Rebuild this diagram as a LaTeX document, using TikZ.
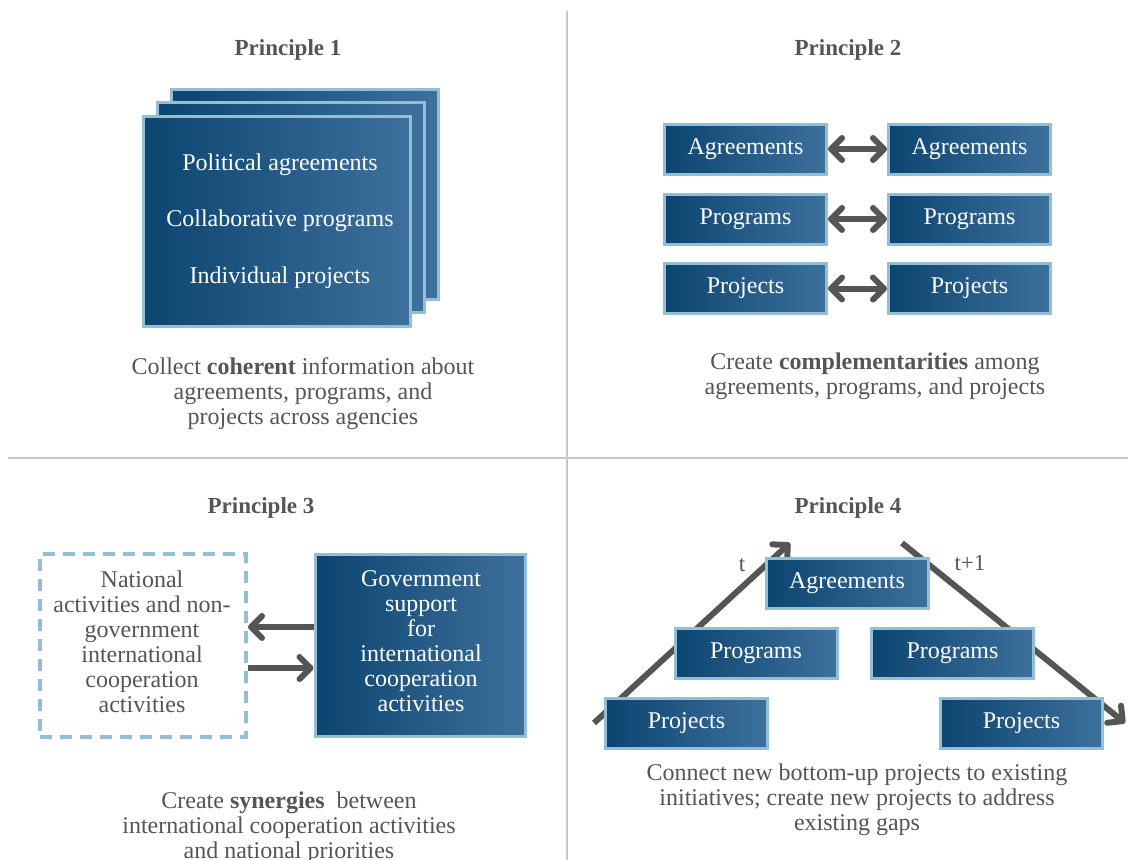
\documentclass[tikz,border=0pt]{standalone}
\usepackage{fontspec}
\setmainfont{Liberation Serif}
\usetikzlibrary{arrows.meta,calc}
\definecolor{boxdark}{HTML}{0B4570}
\definecolor{boxlight}{HTML}{3E709C}
\definecolor{boxedge}{HTML}{93BFD6}
\definecolor{textgray}{HTML}{555555}
\definecolor{arrgray}{HTML}{555555}
\definecolor{divgray}{HTML}{C8C8C8}
\begin{document}
\begin{tikzpicture}[x=1pt,y=-1pt,
  bluebox/.style={draw=boxedge, line width=3pt, left color=boxdark, right color=boxlight,
    text=white, font=\fontsize{24}{25}\selectfont, inner sep=0pt, align=center},
  smallbox/.style={bluebox, minimum width=162pt, minimum height=50pt},
  dashbox/.style={draw=boxedge, line width=4pt, dash pattern=on 12pt off 8pt, inner sep=0pt},
  caption/.style={text=textgray, font=\fontsize{24}{25}\selectfont, align=center, inner sep=0pt},
  whitetext/.style={text=white, font=\fontsize{24}{25}\selectfont, align=center, inner sep=0pt},
  title/.style={text=textgray, font=\bfseries\fontsize{23}{25}\selectfont, inner sep=0pt},
  tlabel/.style={text=textgray, font=\fontsize{23}{25}\selectfont, inner sep=0pt},
  divider/.style={draw=divgray, line width=1.5pt},
  arr/.style={draw=arrgray, line width=6pt, -{Straight Barb[length=11pt,width=22pt,round]}},
  darr/.style={draw=arrgray, line width=6pt, {Straight Barb[length=11pt,width=22pt,round]}-{Straight Barb[length=11pt,width=22pt,round]}}
]
\useasboundingbox (0,0) rectangle (1128,860);

% dividers
\coordinate (vtop) at (567,11);
\coordinate (vbot) at (567,860);
\coordinate (hleft) at (8,458);
\coordinate (hright) at (1128,458);
\draw[divider] (vtop) -- (vbot);
\draw[divider] (hleft) -- (hright);

% titles
\node[title] (t1) at (288,50) {Principle 1};
\node[title] (t2) at (848,50) {Principle 2};
\node[title] (t3) at (261,508) {Principle 3};
\node[title] (t4) at (848,508) {Principle 4};

% Principle 1
\node[bluebox, minimum width=267pt, minimum height=210pt] (p1back) at (304.5,194) {};
\node[bluebox, minimum width=267pt, minimum height=210pt] (p1mid) at (290.5,207.5) {};
\node[bluebox, minimum width=267pt, minimum height=210pt, font=\fontsize{24}{56.5}\selectfont] (p1front) at (276.5,221)
  {\hspace*{7pt}Political agreements\\\hspace*{7pt}Collaborative programs\\\hspace*{7pt}Individual projects};
\node[caption] (c1) at (303,394) {Collect \textbf{coherent} information about\\agreements, programs, and\\projects across agencies};

% Principle 2
\node[smallbox] (a1) at (745.5,149) {Agreements};
\node[smallbox] (a2) at (969.5,149) {Agreements};
\node[smallbox] (g1) at (745.5,219) {Programs};
\node[smallbox] (g2) at (969.5,219) {Programs};
\node[smallbox] (j1) at (745.5,288.5) {Projects};
\node[smallbox] (j2) at (969.5,288.5) {Projects};
\draw[darr] (a1.east) -- (a2.west);
\draw[darr] (g1.east) -- (g2.west);
\draw[darr] (j1.east) -- (j2.west);
\node[caption] (c2) at (875,376) {Create \textbf{complementarities} among\\agreements, programs, and projects};

% Principle 3
\node[dashbox, minimum width=206pt, minimum height=183pt] (natbox) at (143,645.5) {};
\node[caption] (nattext) at (142,641.5) {National\\activities and non-\\government\\international\\cooperation\\activities};
\node[bluebox, minimum width=210pt, minimum height=182pt] (gov) at (420,645) {};
\node[whitetext] (govtext) at (421,641.5) {Government\\support\\for\\international\\cooperation\\activities};
\draw[arr] ([yshift=18pt]gov.west) -- ([yshift=18pt]gov.west -| natbox.east);
\draw[arr] ([yshift=-23pt]gov.west -| natbox.east) -- ([yshift=-23pt]gov.west);
\node[caption] (c3) at (289,828) {Create \textbf{synergies}\ \ between\\international cooperation activities\\and national priorities};

% Principle 4
\coordinate (up1) at (594,723);
\coordinate (up2) at (790,543);
\coordinate (dn1) at (902,543);
\coordinate (dn2) at (1125,723);
\draw[arr] (up1) -- (up2);
\draw[arr] (dn1) -- (dn2);
\node[smallbox] (pa) at (847,583) {Agreements};
\node[smallbox] (pgl) at (756,653.5) {Programs};
\node[smallbox] (pgr) at (952.5,653.5) {Programs};
\node[smallbox] (pjl) at (686.5,723) {Projects};
\node[smallbox] (pjr) at (1021.5,723) {Projects};
\node[tlabel] (lt) at (742,565) {t};
\node[tlabel] (lt1) at (970,563) {t+1};
\node[caption] (c4) at (857,800) {Connect new bottom-up projects to existing\\initiatives; create new projects to address\\existing gaps};
\end{tikzpicture}
\end{document}
